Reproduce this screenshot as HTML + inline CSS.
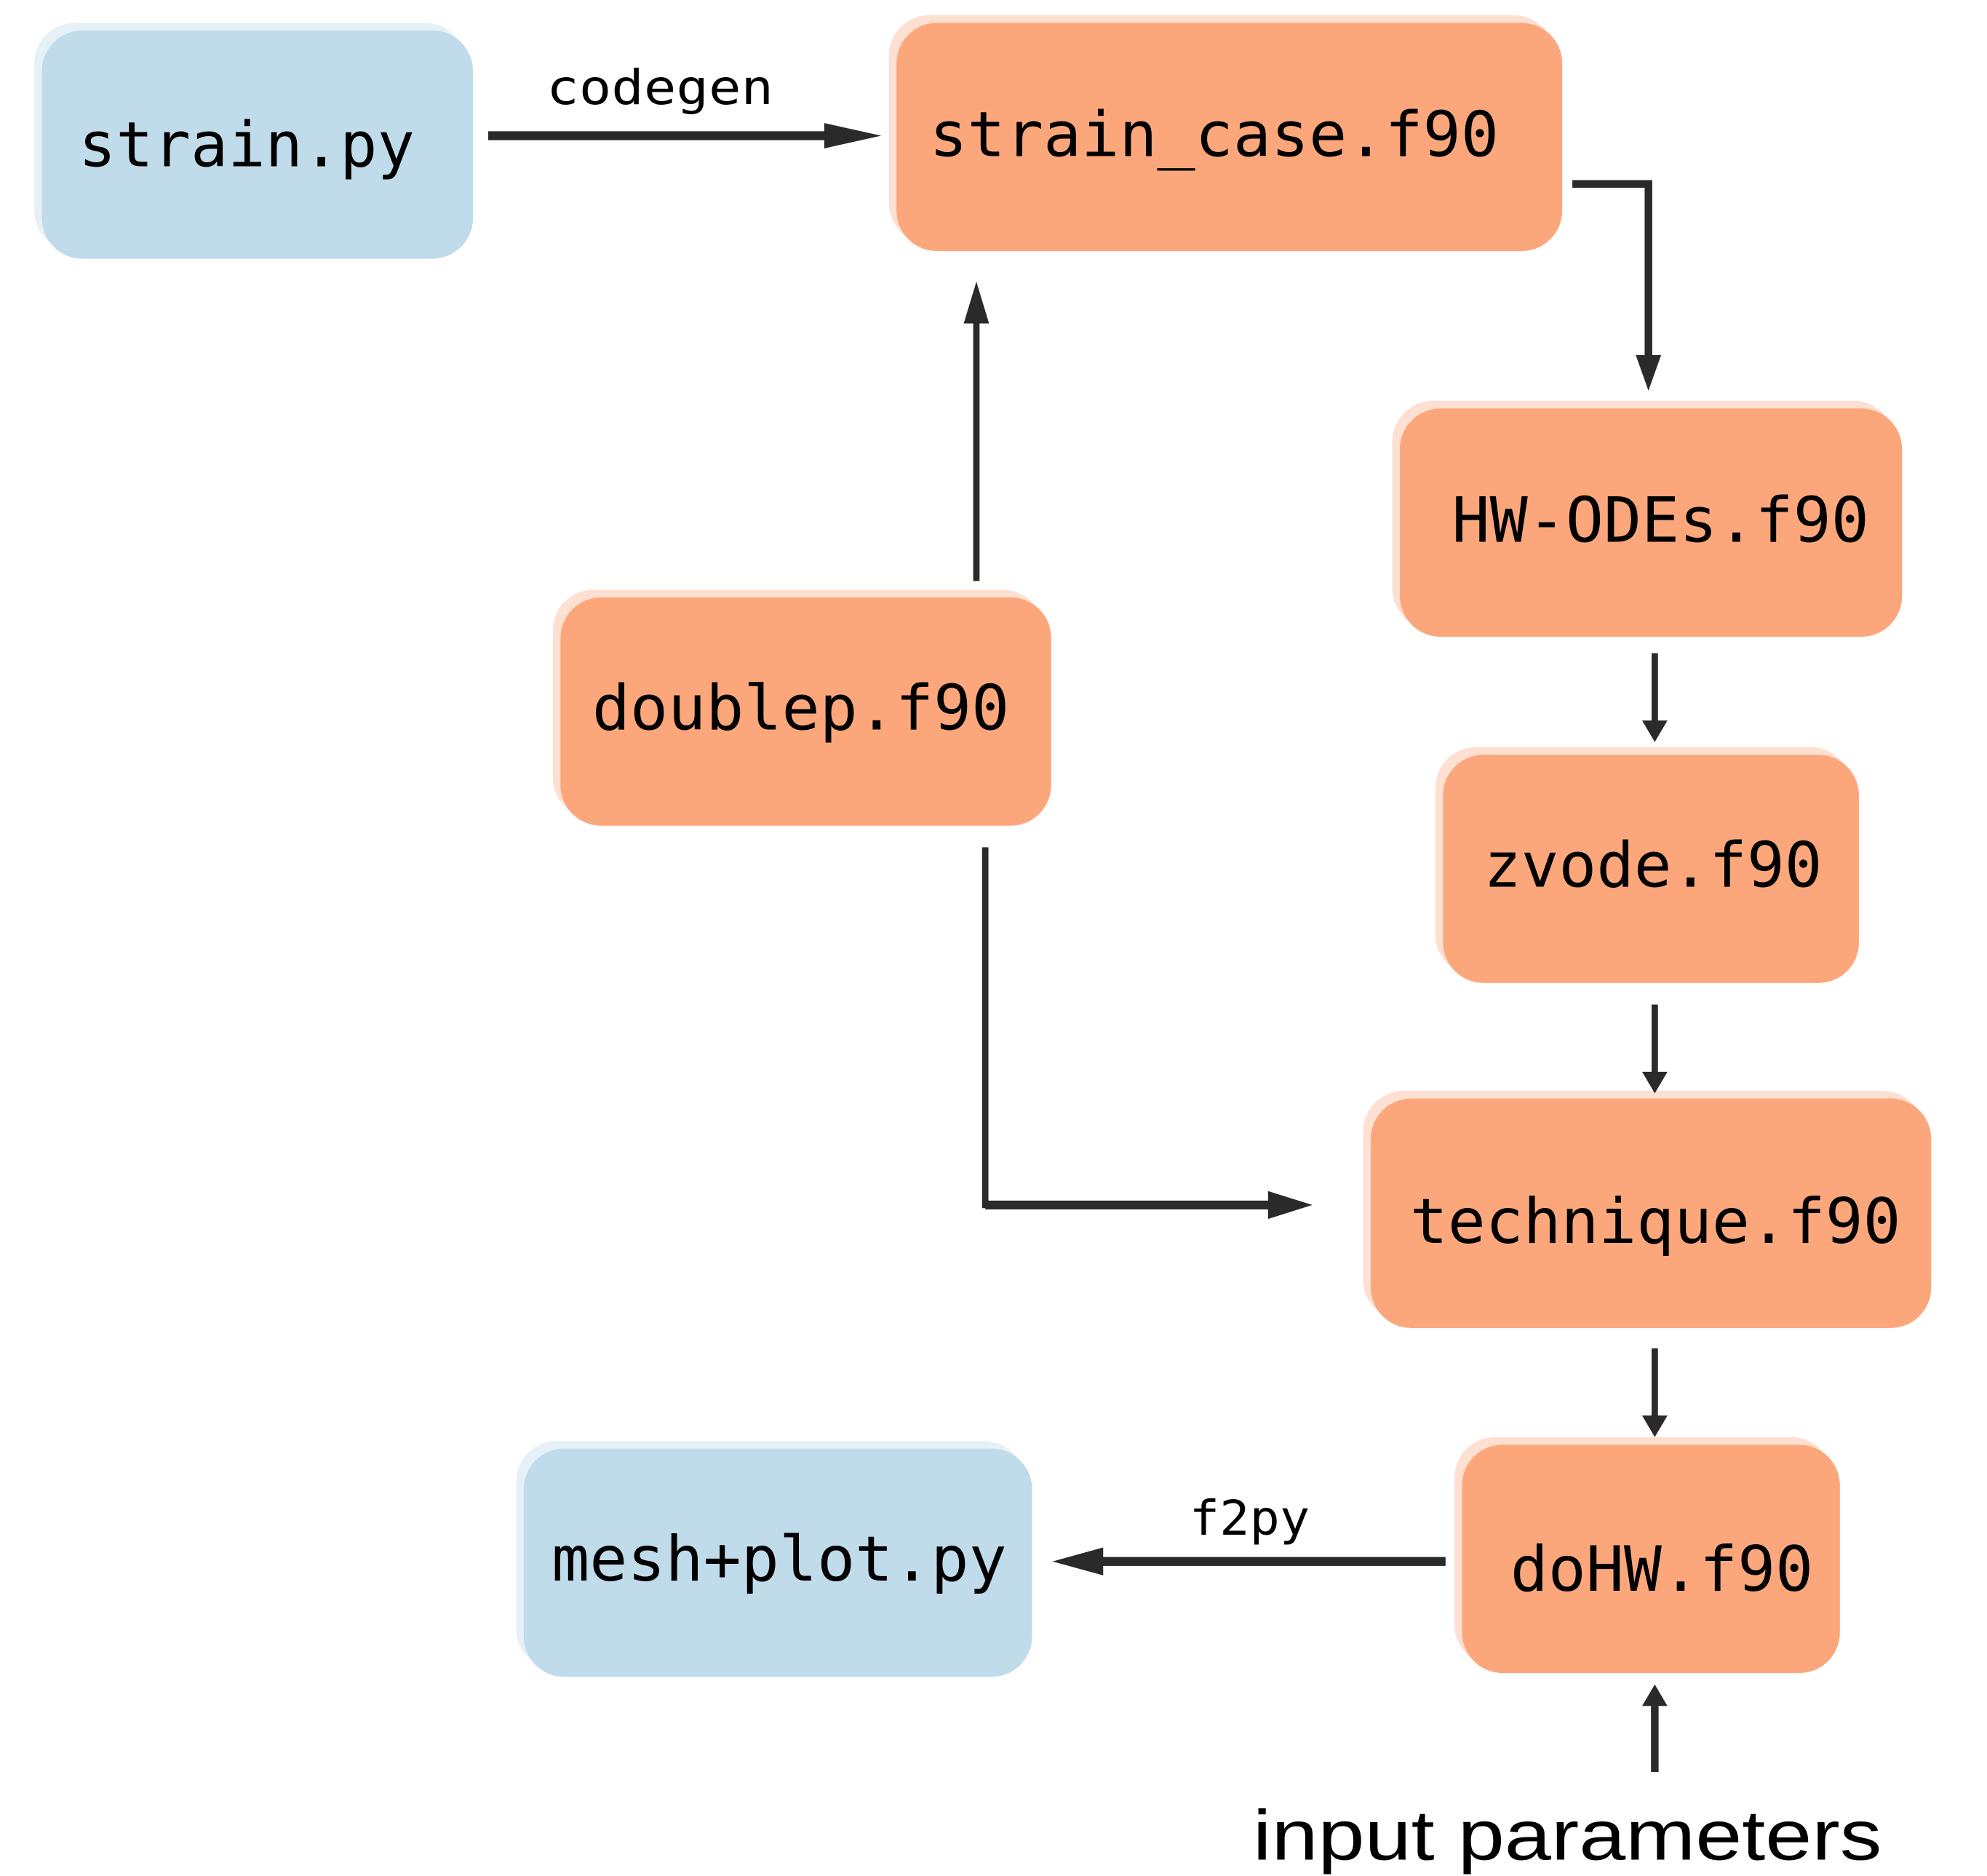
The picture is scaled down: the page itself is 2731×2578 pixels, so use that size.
<!DOCTYPE html>
<html><head><meta charset="utf-8"><style>
html,body{margin:0;padding:0;background:#fff;width:2731px;height:2578px;overflow:hidden}
svg{display:block}
.m{font-family:"DejaVu Sans Mono","Liberation Mono",monospace;fill:#000}
</style></head><body>
<svg width="2731" height="2578" viewBox="0 0 1567 1479" preserveAspectRatio="none" xmlns="http://www.w3.org/2000/svg">
<g>
<rect x="27" y="18" width="340" height="180" rx="32" fill="#e6f1f7"/>
<rect x="33" y="24" width="340" height="180" rx="32" fill="#c0dbea"/>
<rect x="407" y="1136" width="401" height="180" rx="32" fill="#e6f1f7"/>
<rect x="413" y="1142" width="401" height="180" rx="32" fill="#c0dbea"/>
<g fill="#fde0d2">
<rect x="701" y="12" width="525" height="180" rx="32"/>
<rect x="1098" y="316" width="396" height="180" rx="32"/>
<rect x="436" y="465" width="387" height="180" rx="32"/>
<rect x="1132" y="589" width="328" height="180" rx="32"/>
<rect x="1075" y="860" width="442" height="181" rx="32"/>
<rect x="1147" y="1133" width="298" height="180" rx="32"/>
</g>
<g fill="#fca77b">
<rect x="707" y="18" width="525" height="180" rx="32"/>
<rect x="1104" y="322" width="396" height="180" rx="32"/>
<rect x="442" y="471" width="387" height="180" rx="32"/>
<rect x="1138" y="595" width="328" height="180" rx="32"/>
<rect x="1081" y="866" width="442" height="181" rx="32"/>
<rect x="1153" y="1139" width="298" height="180" rx="32"/>
</g>
<g class="m" font-size="49">
<text x="62" y="131" textLength="265" lengthAdjust="spacingAndGlyphs">strain.py</text>
<text x="733" y="123" textLength="449" lengthAdjust="spacingAndGlyphs">strain_case.f90</text>
<text x="1145" y="427" textLength="329" lengthAdjust="spacingAndGlyphs">HW-ODEs.f90</text>
<text x="467" y="575" textLength="329" lengthAdjust="spacingAndGlyphs">doublep.f90</text>
<text x="1170" y="699" textLength="267" lengthAdjust="spacingAndGlyphs">zvode.f90</text>
<text x="1112" y="980" textLength="387" lengthAdjust="spacingAndGlyphs">technique.f90</text>
<text x="1191" y="1254" textLength="239" lengthAdjust="spacingAndGlyphs">doHW.f90</text>
<text x="435" y="1246" textLength="359" lengthAdjust="spacingAndGlyphs">mesh+plot.py</text>
</g>
<g class="m" font-size="38">
<text x="431" y="82" textLength="179" lengthAdjust="spacingAndGlyphs">codegen</text>
<text x="938" y="1210" textLength="95" lengthAdjust="spacingAndGlyphs">f2py</text>
</g>
<text x="988" y="1466" font-family="'Liberation Sans Narrow','Liberation Sans',sans-serif" font-size="56" textLength="496" lengthAdjust="spacingAndGlyphs" fill="#000">input parameters</text>
<g stroke="#2a2a2a" fill="none" stroke-linecap="butt">
<path d="M385 107 H660" stroke-width="7"/>
<path d="M1240 145 H1300 V285" stroke-width="6"/>
<path d="M770 458 V250" stroke-width="5"/>
<path d="M777 668 V950 H1010" stroke-width="5"/>
<path d="M777 950 H1010" stroke-width="7"/>
<path d="M1305 515 V572" stroke-width="5"/>
<path d="M1305 792 V849" stroke-width="5"/>
<path d="M1305 1063 V1120" stroke-width="5"/>
<path d="M1140 1231 H860" stroke-width="7"/>
<path d="M1305 1397 V1345" stroke-width="6"/>
</g>
<g fill="#2a2a2a">
<polygon points="650,97 695,107 650,117"/>
<polygon points="1290,280 1300,308 1310,280"/>
<polygon points="760,255 770,222 780,255"/>
<polygon points="1000,939 1035,950 1000,961"/>
<polygon points="1295,568 1305,585 1315,568"/>
<polygon points="1295,845 1305,862 1315,845"/>
<polygon points="1295,1116 1305,1133 1315,1116"/>
<polygon points="870,1220 830,1231 870,1242"/>
<polygon points="1295,1345 1305,1328 1315,1345"/>
</g>
</g>
</svg>
</body></html>
